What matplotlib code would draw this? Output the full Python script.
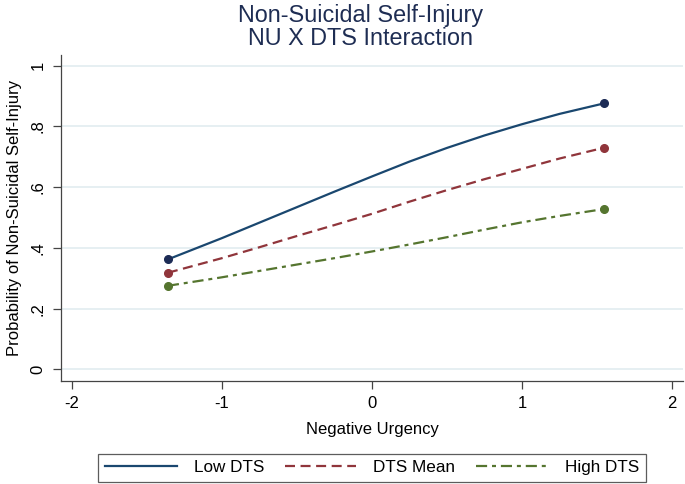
import matplotlib.pyplot as plt

# predicted probabilities
nu = [-1.36, -1.0, -0.75, -0.5, -0.25, 0.0, 0.25, 0.5, 0.75, 1.0, 1.25, 1.55]
low_dts = [0.362, 0.432, 0.483, 0.534, 0.585, 0.635, 0.684, 0.729, 0.770, 0.807, 0.841, 0.876]
dts_mean = [0.318, 0.366, 0.402, 0.439, 0.475, 0.512, 0.552, 0.590, 0.626, 0.660, 0.694, 0.730]
high_dts = [0.275, 0.303, 0.324, 0.345, 0.366, 0.388, 0.411, 0.435, 0.460, 0.484, 0.505, 0.528]

series_names = ["Low DTS", "DTS Mean", "High DTS"]
x_ticks = [-2, -1, 0, 1, 2]
y_ticks = [0, 0.2, 0.4, 0.6, 0.8, 1.0]
y_tick_labels = ["0", ".2", ".4", ".6", ".8", "1"]

plt.rcParams['font.family'] = ['Liberation Sans', 'DejaVu Sans']

fig = plt.figure(figsize=(6.85, 4.84), dpi=100)
ax = fig.add_axes([0.089, 0.2128, 0.908, 0.6736])

styles = [
    dict(color="#1a476f", mfc="#1c2b55", ls="-"),
    dict(color="#90353b", mfc="#90353b", ls=(0, (4.5, 2.5))),
    dict(color="#55752f", mfc="#55752f", ls=(0, (5, 2.2, 1.8, 2.2))),
]
for vals, name, st in zip([low_dts, dts_mean, high_dts], series_names, styles):
    ax.plot(nu, vals, color=st["color"], ls=st["ls"], lw=1.6,
            marker="o", markevery=[0, len(nu) - 1], ms=5.5,
            mfc=st["mfc"], mec=st["mfc"], label=name)

ax.set_xlim(-2.073, 2.073)
ax.set_ylim(-0.0385, 1.035)
ax.set_xticks(x_ticks)
ax.set_xticklabels([str(t) for t in x_ticks])
ax.set_yticks(y_ticks)
ax.set_yticklabels(y_tick_labels, rotation=90, va="center")
ax.tick_params(axis="both", labelsize=12, length=6, width=0.9, color="#444444", pad=5)
ax.yaxis.grid(True, color="#e4eef1", lw=1.3)
ax.set_axisbelow(True)
for s in ["top", "right"]:
    ax.spines[s].set_visible(False)
for s in ["left", "bottom"]:
    ax.spines[s].set_color("#444444")
    ax.spines[s].set_linewidth(0.9)

ax.set_xlabel("Negative Urgency", fontsize=12, labelpad=8)
ax.set_ylabel("Probability of Non-Suicidal Self-Injury", fontsize=12, labelpad=6)
fig.text(0.526, 0.944, "Non-Suicidal Self-Injury\nNU X DTS Interaction",
         ha="center", va="center", fontsize=16.8, color="#1e2d53", linespacing=1.0)

leg = fig.legend(loc="center", bbox_to_anchor=(372 / 685, 0.034), ncol=3,
                 fontsize=12.3, frameon=True, fancybox=False, handlelength=4.2,
                 columnspacing=1.2, handletextpad=1.0, borderpad=0.38,
                 edgecolor="#333333")
for h in leg.legend_handles:
    h.set_marker("")
leg.get_frame().set_linewidth(0.9)

fig.savefig("out.png", dpi=100)
